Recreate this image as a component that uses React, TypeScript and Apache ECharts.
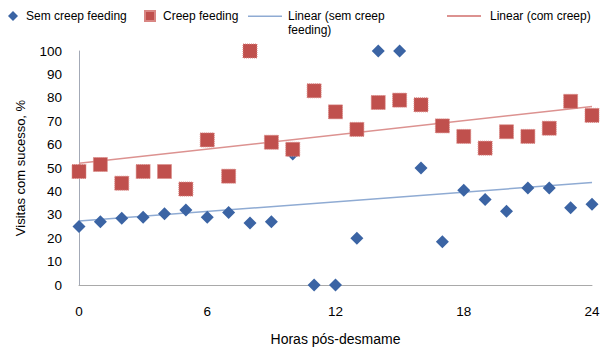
import React, { useEffect, useRef } from "react";
import * as echarts from "echarts";

const hours = [0, 1, 2, 3, 4, 5, 6, 7, 8, 9, 10, 11, 12, 13, 14, 15, 16, 17, 18, 19, 20, 21, 22, 23, 24];
const semCreep = [25, 27, 28.5, 29, 30.5, 32, 29, 31, 26.5, 27, 56, 0, 0, 20, 100, 100, 50, 18.5, 40.5, 36.5, 31.5, 41.5, 41.5, 33, 34.5];
const comCreep = [48.5, 51.5, 43.5, 48.5, 48.5, 41, 62, 46.5, 100, 61, 58, 83, 74, 66.5, 78, 79, 77, 68, 63.5, 58.5, 65.5, 63.5, 67, 78.5, 72.5];
const xTicks = [0, 6, 12, 18, 24];

const names = {
  sem: "Sem creep feeding",
  com: "Creep feeding",
  linSem: "Linear (sem creep feeding)",
  linCom: "Linear (com creep)",
};

function linearFit(xs: number[], ys: number[]) {
  const n = xs.length;
  const mx = xs.reduce((a, b) => a + b, 0) / n;
  const my = ys.reduce((a, b) => a + b, 0) / n;
  let sxy = 0;
  let sxx = 0;
  for (let i = 0; i < n; i++) {
    sxy += (xs[i] - mx) * (ys[i] - my);
    sxx += (xs[i] - mx) * (xs[i] - mx);
  }
  const slope = sxy / sxx;
  const intercept = my - slope * mx;
  const x0 = xs[0];
  const x1 = xs[n - 1];
  return [
    [x0, intercept + slope * x0],
    [x1, intercept + slope * x1],
  ];
}

export default function App() {
  const ref = useRef<HTMLDivElement>(null);
  useEffect(() => {
    if (!ref.current) return;
    const chart = echarts.init(ref.current, undefined, { renderer: "svg" });
    const font = "Liberation Sans, Arial, Helvetica, sans-serif";
    const blue = "#3b64a4";
    const red = "#c0504d";
    const legendText = { fontSize: 12, color: "#000", fontFamily: font };
    // line icon sitting at the top of a taller box (tiny invisible subpath extends the box)
    const topLineIcon = "path://M0 0H34V1.5H0Z M0 14H0.01V14.01H0Z";
    chart.setOption({
      animation: false,
      backgroundColor: "#fff",
      grid: { left: 79, right: 18, top: 51, bottom: 64, containLabel: false },
      legend: [
        {
          data: [{ name: names.sem, icon: "diamond" }],
          left: 8,
          top: 10,
          padding: 0,
          itemWidth: 10,
          itemHeight: 10,
          textStyle: { ...legendText, padding: [0, 0, 0, 3] },
        },
        {
          data: [{ name: names.com, icon: "rect" }],
          left: 144,
          top: 10,
          padding: 0,
          itemWidth: 10,
          itemHeight: 10,
          textStyle: { ...legendText, padding: [0, 0, 0, 3] },
        },
        {
          data: [{ name: names.linSem, icon: topLineIcon }],
          left: 248,
          top: 8.5,
          padding: 0,
          itemWidth: 34,
          itemHeight: 14,
          formatter: () => "Linear (sem creep\nfeeding)",
          textStyle: { ...legendText, lineHeight: 14, padding: [0, 0, 0, 1] },
        },
        {
          data: [{ name: names.linCom, icon: "rect" }],
          left: 447,
          top: 10,
          padding: 0,
          itemWidth: 34,
          itemHeight: 2,
          textStyle: { ...legendText, padding: [0, 0, 0, 4] },
        },
      ],
      xAxis: {
        type: "value",
        min: 0,
        max: 24,
        interval: 6,
        name: "Horas pós-desmame",
        nameLocation: "middle",
        nameGap: 47,
        nameTextStyle: { fontSize: 14, color: "#000", fontFamily: font },
        axisLine: { show: true, onZero: false, lineStyle: { color: "#a9a9a9", width: 1 } },
        axisTick: { show: false },
        splitLine: { show: false },
        axisLabel: {
          fontSize: 13.5,
          color: "#000",
          fontFamily: font,
          margin: 19,
          formatter: (v: number) => (xTicks.includes(v) ? String(v) : ""),
        },
      },
      yAxis: {
        type: "value",
        min: 0,
        max: 100,
        interval: 10,
        name: "Visitas com sucesso, %",
        nameLocation: "middle",
        nameGap: 52,
        nameTextStyle: { fontSize: 13, color: "#000", fontFamily: font },
        axisLine: { show: true, lineStyle: { color: "#a3a9b6", width: 1 } },
        axisTick: { show: false },
        splitLine: { show: false },
        axisLabel: { fontSize: 13.5, color: "#000", fontFamily: font, margin: 17 },
      },
      series: [
        {
          name: names.linSem,
          type: "line",
          data: linearFit(hours, semCreep),
          symbol: "none",
          z: 1,
          lineStyle: { color: "#8fabd3", width: 1.5 },
          itemStyle: { color: "#8fabd3" },
        },
        {
          name: names.linCom,
          type: "line",
          data: linearFit(hours, comCreep),
          symbol: "none",
          z: 1,
          lineStyle: { color: "#dc9290", width: 1.5 },
          itemStyle: { color: "#dc9290" },
        },
        {
          name: names.sem,
          type: "scatter",
          clip: false,
          symbol: "diamond",
          symbolSize: 13,
          z: 3,
          itemStyle: { color: blue, opacity: 1 },
          data: hours.map((h, i) => [h, semCreep[i]]),
        },
        {
          name: names.com,
          type: "scatter",
          clip: false,
          symbol: "rect",
          symbolSize: 14,
          z: 4,
          itemStyle: {
            color: red,
            opacity: 1,
            borderColor: "#d98683",
            borderWidth: 1,
            borderType: "dotted",
          },
          data: hours.map((h, i) => [h, comCreep[i]]),
        },
      ],
    });
    return () => chart.dispose();
  }, []);
  return <div ref={ref} style={{ width: 610, height: 351, position: "absolute", left: 0, top: 0 }} />;
}
